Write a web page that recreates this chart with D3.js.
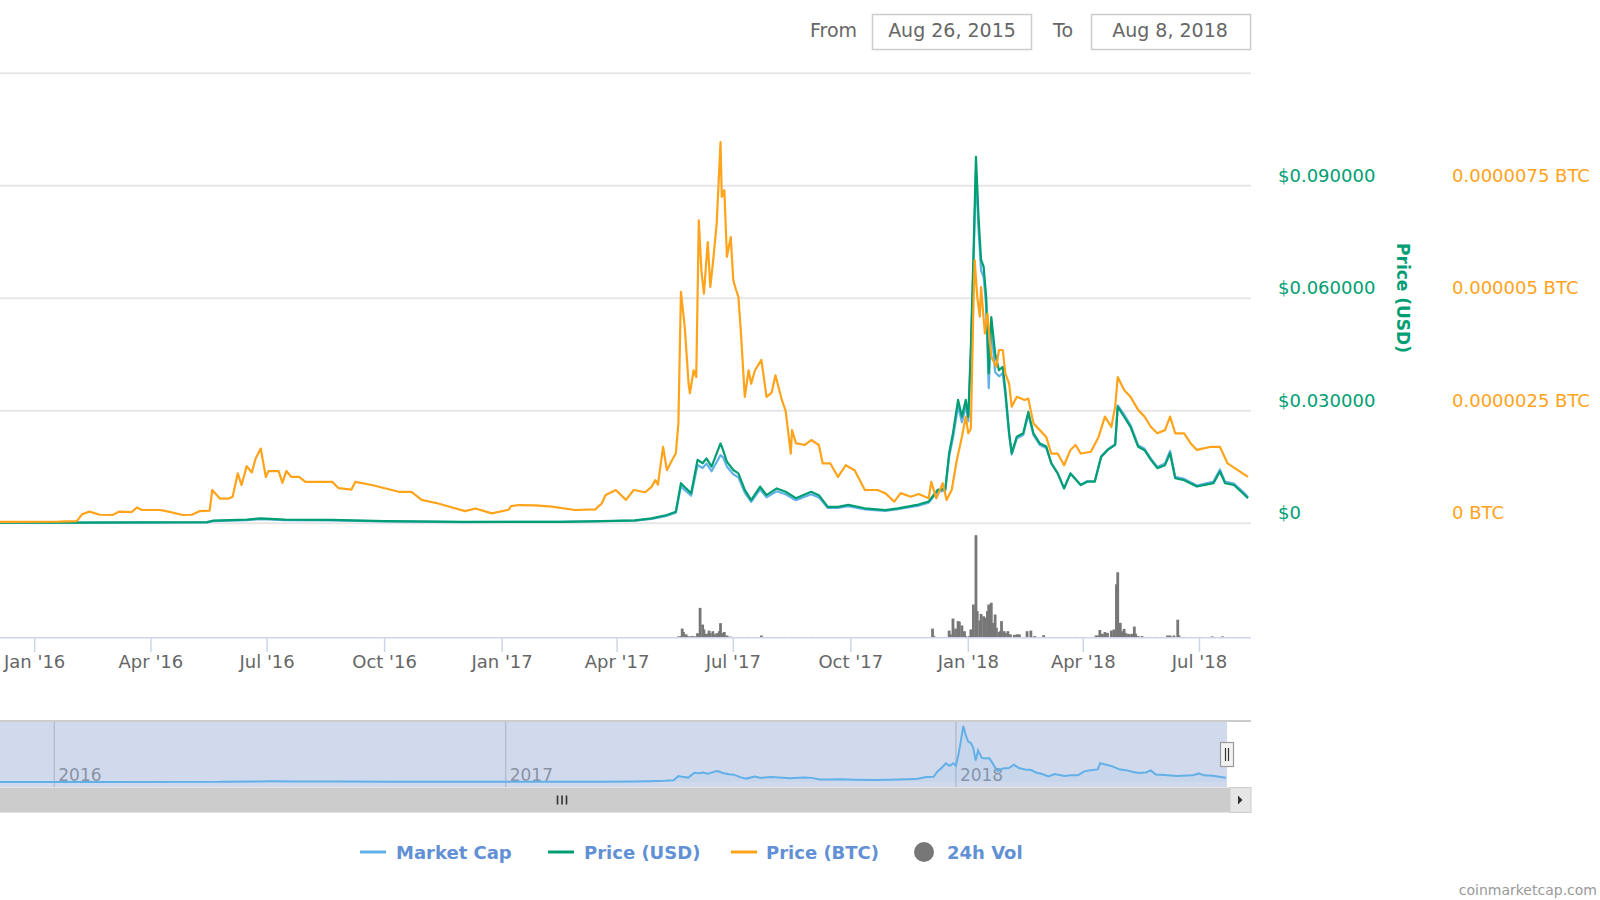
<!DOCTYPE html>
<html><head><meta charset="utf-8">
<script src="https://cdn.jsdelivr.net/npm/d3@7"></script>
<style>html,body{margin:0;padding:0;background:#fff;}svg{display:block;font-family:"DejaVu Sans",sans-serif;}</style>
</head><body>
<svg id="c" width="1600" height="900"></svg>
<script>
// ---------------- DATA ----------------
const fromLabel = "Aug 26, 2015";
const toLabel = "Aug 8, 2018";
const rangeStart = "2015-08-26";
const rangeEnd = "2018-08-08";

const btcDates = ["2015-08-26","2015-10-15","2015-12-10","2016-01-20","2016-02-03","2016-02-07","2016-02-13","2016-02-21","2016-03-02","2016-03-07","2016-03-17","2016-03-21","2016-03-25","2016-04-08","2016-04-13","2016-04-26","2016-05-03","2016-05-09","2016-05-17","2016-05-19","2016-05-25","2016-06-01","2016-06-04","2016-06-08","2016-06-11","2016-06-15","2016-06-19","2016-06-22","2016-06-26","2016-06-30","2016-07-02","2016-07-10","2016-07-13","2016-07-16","2016-07-20","2016-07-26","2016-07-31","2016-08-21","2016-08-26","2016-09-05","2016-09-08","2016-09-21","2016-10-12","2016-10-22","2016-10-30","2016-11-12","2016-12-03","2016-12-11","2016-12-24","2017-01-06","2017-01-08","2017-01-14","2017-01-27","2017-02-09","2017-02-27","2017-03-15","2017-03-20","2017-03-23","2017-03-31","2017-04-08","2017-04-14","2017-04-23","2017-04-28","2017-05-01","2017-05-03","2017-05-07","2017-05-10","2017-05-14","2017-05-17","2017-05-19","2017-05-21","2017-05-24","2017-05-27","2017-05-28","2017-05-31","2017-06-02","2017-06-04","2017-06-06","2017-06-08","2017-06-11","2017-06-13","2017-06-15","2017-06-18","2017-06-21","2017-06-22","2017-06-24","2017-06-26","2017-06-29","2017-07-01","2017-07-03","2017-07-05","2017-07-07","2017-07-10","2017-07-13","2017-07-15","2017-07-18","2017-07-23","2017-07-27","2017-07-31","2017-08-03","2017-08-08","2017-08-11","2017-08-15","2017-08-16","2017-08-19","2017-08-26","2017-08-31","2017-09-06","2017-09-09","2017-09-15","2017-09-21","2017-09-27","2017-10-04","2017-10-12","2017-10-22","2017-10-28","2017-11-04","2017-11-09","2017-11-17","2017-11-23","2017-12-01","2017-12-03","2017-12-07","2017-12-12","2017-12-15","2017-12-19","2017-12-23","2017-12-27","2017-12-30","2018-01-01","2018-01-03","2018-01-05","2018-01-06","2018-01-08","2018-01-10","2018-01-11","2018-01-14","2018-01-16","2018-01-19","2018-01-23","2018-01-25","2018-01-28","2018-01-30","2018-02-02","2018-02-04","2018-02-08","2018-02-14","2018-02-17","2018-02-21","2018-02-26","2018-03-03","2018-03-07","2018-03-12","2018-03-17","2018-03-22","2018-03-26","2018-03-30","2018-04-07","2018-04-13","2018-04-18","2018-04-23","2018-04-26","2018-04-28","2018-05-03","2018-05-08","2018-05-14","2018-05-19","2018-05-24","2018-05-29","2018-06-04","2018-06-08","2018-06-12","2018-06-19","2018-06-24","2018-06-29","2018-07-10","2018-07-17","2018-07-23","2018-07-31","2018-08-08"];
const btcPrices = [3.0e-8,3.5e-8,3.2e-8,3.6e-8,5e-8,2.0e-7,2.6e-7,1.9e-7,1.84e-7,2.6e-7,2.5e-7,3.5e-7,2.95e-7,2.95e-7,2.7e-7,1.84e-7,1.9e-7,2.7e-7,2.8e-7,7.4e-7,5.5e-7,5.5e-7,5.9e-7,1.11e-6,8.5e-7,1.27e-6,1.13e-6,1.44e-6,1.66e-6,1.03e-6,1.16e-6,1.16e-6,9.0e-7,1.16e-6,1.03e-6,1.03e-6,9.2e-7,9.2e-7,7.8e-7,7.5e-7,9.2e-7,8.5e-7,7.0e-7,7.0e-7,5.2e-7,4.4e-7,2.7e-7,3.3e-7,2.2e-7,3.0e-7,3.8e-7,4.06e-7,4.0e-7,3.7e-7,2.95e-7,3.1e-7,4.4e-7,6.3e-7,7.4e-7,5.2e-7,7.4e-7,6.9e-7,8.1e-7,9.6e-7,8.6e-7,1.7e-6,1.18e-6,1.4e-6,1.55e-6,2.22e-6,5.14e-6,4.36e-6,3.1e-6,2.89e-6,3.4e-6,3.25e-6,6.73e-6,5.62e-6,5.1e-6,6.25e-6,5.25e-6,5.77e-6,6.66e-6,8.47e-6,7.25e-6,7.4e-6,5.92e-6,6.36e-6,5.4e-6,5.2e-6,5.03e-6,4.22e-6,2.81e-6,3.4e-6,3.1e-6,3.4e-6,3.63e-6,2.81e-6,2.9e-6,3.29e-6,2.74e-6,2.5e-6,1.55e-6,2.07e-6,1.78e-6,1.74e-6,1.85e-6,1.74e-6,1.33e-6,1.33e-6,1.03e-6,1.29e-6,1.18e-6,7.4e-7,7.4e-7,6.7e-7,4.8e-7,6.7e-7,5.9e-7,6.5e-7,5.55e-7,9.2e-7,5.55e-7,8.9e-7,5.2e-7,7.4e-7,1.4e-6,1.92e-6,2.37e-6,2.0e-6,2.1e-6,4.81e-6,5.85e-6,5.03e-6,4.59e-6,5.25e-6,4.22e-6,4.66e-6,3.7e-6,3.48e-6,3.85e-6,3.85e-6,3.33e-6,3.1e-6,2.59e-6,2.81e-6,2.74e-6,2.77e-6,2.22e-6,2.07e-6,1.92e-6,1.55e-6,1.55e-6,1.29e-6,1.63e-6,1.74e-6,1.55e-6,1.59e-6,1.92e-6,2.37e-6,2.14e-6,2.59e-6,3.25e-6,2.96e-6,2.81e-6,2.52e-6,2.37e-6,2.14e-6,2.0e-6,2.07e-6,2.37e-6,2.0e-6,2.0e-6,1.78e-6,1.63e-6,1.7e-6,1.7e-6,1.33e-6,1.18e-6,1.03e-6];

const usdDates = ["2015-08-26","2016-02-01","2016-05-15","2016-05-20","2016-06-15","2016-06-26","2016-07-15","2016-08-20","2016-10-01","2016-12-01","2017-01-10","2017-02-15","2017-03-20","2017-04-15","2017-04-28","2017-05-10","2017-05-17","2017-05-21","2017-05-25","2017-05-29","2017-06-03","2017-06-07","2017-06-10","2017-06-14","2017-06-21","2017-06-23","2017-06-26","2017-07-01","2017-07-05","2017-07-10","2017-07-15","2017-07-22","2017-07-27","2017-08-04","2017-08-11","2017-08-19","2017-08-31","2017-09-06","2017-09-13","2017-09-21","2017-09-29","2017-10-12","2017-10-28","2017-11-07","2017-11-23","2017-12-01","2017-12-08","2017-12-14","2017-12-17","2017-12-20","2017-12-24","2017-12-27","2017-12-30","2018-01-01","2018-01-03","2018-01-05","2018-01-07","2018-01-09","2018-01-11","2018-01-13","2018-01-15","2018-01-17","2018-01-19","2018-01-22","2018-01-25","2018-01-28","2018-01-30","2018-02-02","2018-02-04","2018-02-08","2018-02-13","2018-02-17","2018-02-21","2018-02-26","2018-03-03","2018-03-07","2018-03-12","2018-03-17","2018-03-22","2018-03-30","2018-04-04","2018-04-10","2018-04-15","2018-04-20","2018-04-26","2018-04-28","2018-05-03","2018-05-08","2018-05-14","2018-05-19","2018-05-24","2018-05-29","2018-06-04","2018-06-08","2018-06-12","2018-06-19","2018-06-29","2018-07-12","2018-07-17","2018-07-21","2018-07-28","2018-08-04","2018-08-08"];
const usdPrices = [0.0002,0.0002,0.0003,0.0007,0.0010,0.0013,0.0010,0.0009,0.0006,0.0004,0.0004,0.0004,0.0006,0.0008,0.0013,0.0022,0.0031,0.0107,0.0093,0.0080,0.0169,0.0160,0.0173,0.0151,0.0213,0.0195,0.0164,0.0142,0.0133,0.0089,0.0062,0.0098,0.0075,0.0093,0.0084,0.0067,0.0084,0.0075,0.0044,0.0044,0.0049,0.0040,0.0035,0.0040,0.0050,0.0058,0.0089,0.0092,0.0187,0.0240,0.0329,0.0284,0.0329,0.0284,0.0470,0.0710,0.0977,0.0817,0.0702,0.0684,0.0604,0.0400,0.0550,0.0453,0.0408,0.0417,0.0355,0.0240,0.0187,0.0231,0.0240,0.0297,0.0240,0.0213,0.0205,0.0160,0.0133,0.0093,0.0133,0.0102,0.0111,0.0111,0.0177,0.0195,0.0209,0.0311,0.0284,0.0257,0.0204,0.0195,0.0169,0.0147,0.0155,0.0187,0.0120,0.0115,0.0098,0.0107,0.0138,0.0107,0.0102,0.0080,0.0067];
// Market cap in millions of USD, same dates as usdDates
const marketCapM = [6,6,8,20,28,36,28,25,17,11,12,12,18,24,39,66,94,325,282,243,513,486,525,458,600,580,498,431,404,270,188,298,228,282,255,203,255,228,135,135,150,123,108,124,156,182,279,288,586,752,1031,890,1031,898,1489,2249,3095,2588,2224,2167,1913,1188,1742,1330,1293,1321,1125,776,605,747,776,960,776,689,663,528,439,307,439,337,370,370,590,650,697,1037,956,865,687,656,569,495,527,636,408,391,333,367,474,367,350,277,232];

const volDates = ["2017-05-19","2017-05-21","2017-05-22","2017-05-23","2017-05-25","2017-05-26","2017-05-28","2017-05-30","2017-06-01","2017-06-03","2017-06-05","2017-06-07","2017-06-08","2017-06-10","2017-06-12","2017-06-13","2017-06-15","2017-06-16","2017-06-18","2017-06-20","2017-06-21","2017-06-23","2017-06-24","2017-06-26","2017-06-27","2017-06-29","2017-07-03","2017-07-08","2017-07-12","2017-07-16","2017-07-23","2017-08-11","2017-08-16","2017-09-01","2017-12-04","2017-12-05","2017-12-13","2017-12-17","2017-12-18","2017-12-20","2017-12-22","2017-12-24","2017-12-25","2017-12-27","2017-12-29","2017-12-30","2018-01-02","2018-01-03","2018-01-05","2018-01-07","2018-01-08","2018-01-10","2018-01-11","2018-01-13","2018-01-14","2018-01-16","2018-01-17","2018-01-19","2018-01-20","2018-01-22","2018-01-23","2018-01-25","2018-01-26","2018-01-27","2018-01-29","2018-01-30","2018-02-01","2018-02-03","2018-02-06","2018-02-08","2018-02-10","2018-02-16","2018-02-19","2018-02-22","2018-03-01","2018-03-26","2018-04-11","2018-04-12","2018-04-14","2018-04-16","2018-04-18","2018-04-20","2018-04-23","2018-04-25","2018-04-27","2018-04-28","2018-04-30","2018-05-01","2018-05-03","2018-05-04","2018-05-06","2018-05-07","2018-05-09","2018-05-11","2018-05-12","2018-05-14","2018-05-17","2018-05-20","2018-05-23","2018-05-28","2018-06-06","2018-06-08","2018-06-11","2018-06-14","2018-06-15","2018-06-19","2018-06-24","2018-07-01","2018-07-11","2018-07-19","2018-07-24"];
const volM = [5,6,32,20,12,6,5,6,5,16,104,46,29,14,25,16,23,12,16,23,51,17,20,8,4,4,3,3,3,2,8,3,3,3,32,6,3,25,12,67,32,58,56,43,23,6,6,29,116,357,93,60,83,75,70,93,116,122,52,81,35,20,23,58,23,17,23,12,10,12,12,23,25,6,9,3,8,8,27,14,20,17,25,29,186,228,52,23,31,17,14,12,14,39,14,6,6,3,3,3,8,8,8,63,8,3,3,3,5,5,3];

const usdTicks = [0, 0.03, 0.06, 0.09, 0.12];
const btcTicks = [0, 0.0000025, 0.000005, 0.0000075];
const seriesNames = ["Market Cap", "Price (USD)", "Price (BTC)", "24h Vol"];
const seriesColors = ["#62b0e8", "#009e73", "#ffa31a", "#777777"];
const axisTitle = "Price (USD)";
const credit = "coinmarketcap.com";

// ---------------- CHART ----------------
const parse = d3.utcParse("%Y-%m-%d");
const svg = d3.select("#c");
const plotRight = 1251;
const [cMcap, cUsd, cBtc, cVol] = seriesColors;

const x = d3.scaleUtc().domain([parse(rangeStart), parse(rangeEnd)]).range([-128.8, 1248]);
const yUsd = d3.scaleLinear().domain([0, 0.12]).range([523.3, 73.2]);
const yBtc = d3.scaleLinear().domain([0, 0.00001]).range([523.3, 73.2]);
const yMcap = d3.scaleLinear().domain([0, 3960]).range([523.3, 73.2]);
const yVol = d3.scaleLinear().domain([0, 400]).range([637.8, 522.8]);
const xNav = d3.scaleUtc().domain([parse(rangeStart), parse(rangeEnd)]).range([-103.6, 1226]);
const yNav = d3.scaleLinear().domain([0, d3.max(marketCapM)]).range([782, 726]);

const defs = svg.append("defs");
defs.append("clipPath").attr("id", "plotClip").append("rect")
  .attr("x", 0).attr("y", 60).attr("width", plotRight).attr("height", 580);
defs.append("clipPath").attr("id", "navClip").append("rect")
  .attr("x", 0).attr("y", 715).attr("width", 1228).attr("height", 75);

// Date range inputs
const fontLbl = 19;
svg.append("text").attr("x", 810).attr("y", 37).attr("font-size", fontLbl).attr("fill", "#666").text("From");
svg.append("rect").attr("x", 872.5).attr("y", 14.5).attr("width", 159).attr("height", 35)
  .attr("fill", "#fff").attr("stroke", "#cccccc").attr("stroke-width", 1.5);
svg.append("text").attr("x", 952).attr("y", 37).attr("text-anchor", "middle").attr("font-size", fontLbl).attr("fill", "#666").text(fromLabel);
svg.append("text").attr("x", 1053).attr("y", 37).attr("font-size", fontLbl).attr("fill", "#666").text("To");
svg.append("rect").attr("x", 1091.5).attr("y", 14.5).attr("width", 159).attr("height", 35)
  .attr("fill", "#fff").attr("stroke", "#cccccc").attr("stroke-width", 1.5);
svg.append("text").attr("x", 1170).attr("y", 37).attr("text-anchor", "middle").attr("font-size", fontLbl).attr("fill", "#666").text(toLabel);

// Gridlines
svg.append("g").selectAll("line").data(usdTicks).join("line")
  .attr("x1", 0).attr("x2", plotRight)
  .attr("y1", d => yUsd(d)).attr("y2", d => yUsd(d))
  .attr("stroke", "#e6e6e6").attr("stroke-width", 2);

// USD axis labels
const fmtUsd = v => v === 0 ? "$0" : "$" + v.toFixed(6);
svg.append("g").selectAll("text").data(usdTicks.filter(t => t < 0.12)).join("text")
  .attr("x", 1278).attr("y", d => yUsd(d) - 4)
  .attr("font-size", 18).attr("fill", cUsd).text(fmtUsd);
// BTC axis labels
const fmtBtc = v => v.toFixed(7).replace(/0+$/, "").replace(/\.$/, "") + " BTC";
svg.append("g").selectAll("text").data(btcTicks).join("text")
  .attr("x", 1452).attr("y", d => yBtc(d) - 4)
  .attr("font-size", 18).attr("fill", cBtc).text(fmtBtc);
// Axis title
svg.append("text").attr("transform", "translate(1403,298) rotate(90)")
  .attr("text-anchor", "middle").attr("dominant-baseline", "central")
  .attr("font-size", 17).attr("font-weight", "bold").attr("fill", cUsd).text(axisTitle);

// Series data
const usdData = usdDates.map((d, i) => ({ date: parse(d), v: usdPrices[i], m: marketCapM[i] }));
const btcData = btcDates.map((d, i) => ({ date: parse(d), v: btcPrices[i] }));
const volData = volDates.map((d, i) => ({ date: parse(d), v: volM[i] }));

const plot = svg.append("g").attr("clip-path", "url(#plotClip)");
plot.append("path").datum(usdData)
  .attr("d", d3.line().x(d => x(d.date)).y(d => yMcap(d.m)))
  .attr("fill", "none").attr("stroke", cMcap).attr("stroke-width", 2.2).attr("stroke-linejoin", "round");
plot.append("path").datum(usdData)
  .attr("d", d3.line().x(d => x(d.date)).y(d => yUsd(d.v)))
  .attr("fill", "none").attr("stroke", cUsd).attr("stroke-width", 2.2).attr("stroke-linejoin", "round");
plot.append("path").datum(btcData)
  .attr("d", d3.line().x(d => x(d.date)).y(d => yBtc(d.v)))
  .attr("fill", "none").attr("stroke", cBtc).attr("stroke-width", 2.2).attr("stroke-linejoin", "round");

// Volume bars
plot.append("g").selectAll("rect").data(volData).join("rect")
  .attr("x", d => x(d.date) - 1.4).attr("width", 2.8)
  .attr("y", d => yVol(d.v)).attr("height", d => yVol(0) - yVol(d.v))
  .attr("fill", cVol);

// X axis
svg.append("line").attr("x1", 0).attr("x2", plotRight).attr("y1", 637.8).attr("y2", 637.8)
  .attr("stroke", "#ccd6eb").attr("stroke-width", 1.5);
const xticks = x.ticks(d3.utcMonth.every(3)).filter(d => x(d) >= 0 && x(d) <= plotRight);
const fmtX = d3.utcFormat("%b '%y");
const xt = svg.append("g").selectAll("g").data(xticks).join("g");
xt.append("line").attr("x1", d => x(d)).attr("x2", d => x(d)).attr("y1", 637.8).attr("y2", 652)
  .attr("stroke", "#ccd6eb").attr("stroke-width", 1.5);
xt.append("text").attr("x", d => x(d)).attr("y", 668).attr("text-anchor", "middle")
  .attr("font-size", 18).attr("fill", "#666").text(fmtX);

// Navigator
const navG = svg.append("g");
navG.append("g").attr("clip-path", "url(#navClip)").selectAll("g")
  .data(xNav.ticks(d3.utcYear.every(1))).join(g => {
    const e = g.append("g");
    e.append("line").attr("x1", d => xNav(d)).attr("x2", d => xNav(d)).attr("y1", 721).attr("y2", 787)
      .attr("stroke", "#d8d8d8").attr("stroke-width", 1.5);
    e.append("text").attr("x", d => xNav(d) + 4).attr("y", 781).attr("font-size", 17)
      .attr("fill", "#999").text(d3.utcFormat("%Y"));
    return e;
  });
navG.append("rect").attr("x", 0).attr("y", 721).attr("width", 1227).attr("height", 66)
  .attr("fill", "rgba(102,133,194,0.3)");
const navSeries = navG.append("g").attr("clip-path", "url(#navClip)");
navSeries.append("path").datum(usdData)
  .attr("d", d3.area().x(d => xNav(d.date)).y0(yNav(0)).y1(d => yNav(d.m)))
  .attr("fill", cMcap).attr("fill-opacity", 0.08);
navSeries.append("path").datum(usdData)
  .attr("d", d3.line().x(d => xNav(d.date)).y(d => yNav(d.m)))
  .attr("fill", "none").attr("stroke", cMcap).attr("stroke-width", 2);
navG.append("line").attr("x1", 0).attr("x2", plotRight).attr("y1", 721).attr("y2", 721)
  .attr("stroke", "#cccccc").attr("stroke-width", 2);
// handle
navG.append("rect").attr("x", 1220.5).attr("y", 742.5).attr("width", 13).attr("height", 24)
  .attr("fill", "#f2f2f2").attr("stroke", "#999").attr("stroke-width", 1.2);
[1225.5, 1228.5].forEach(hx => navG.append("line").attr("x1", hx).attr("x2", hx)
  .attr("y1", 748).attr("y2", 761).attr("stroke", "#333").attr("stroke-width", 1.2));

// Scrollbar
svg.append("rect").attr("x", 0).attr("y", 787.5).attr("width", 1230).attr("height", 25).attr("fill", "#cccccc");
svg.append("rect").attr("x", 1230).attr("y", 787.5).attr("width", 21).attr("height", 25)
  .attr("fill", "#e6e6e6").attr("stroke", "#cccccc").attr("stroke-width", 1);
svg.append("path").attr("d", "M1238,795.5 L1238,804.5 L1242.5,800 Z").attr("fill", "#333");
[557.5, 562, 566.5].forEach(gx => svg.append("line").attr("x1", gx).attr("x2", gx)
  .attr("y1", 795.5).attr("y2", 804.5).attr("stroke", "#333").attr("stroke-width", 1.6));

// Legend
const legendText = "#6290d5";
const lg = svg.append("g").attr("font-size", 18).attr("font-weight", "bold");
const legendPos = [
  { sx: 360, tx: 396 }, { sx: 548, tx: 584 }, { sx: 731, tx: 766 }, { sx: 914, tx: 947 }
];
seriesNames.forEach((name, i) => {
  const p = legendPos[i];
  if (i < 3) {
    lg.append("line").attr("x1", p.sx).attr("x2", p.sx + 26).attr("y1", 852).attr("y2", 852)
      .attr("stroke", seriesColors[i]).attr("stroke-width", 3);
  } else {
    lg.append("circle").attr("cx", p.sx + 10).attr("cy", 852).attr("r", 10).attr("fill", seriesColors[i]);
  }
  lg.append("text").attr("x", p.tx).attr("y", 858.5).attr("fill", legendText).text(name);
});

// Credit
svg.append("text").attr("x", 1597).attr("y", 895).attr("text-anchor", "end")
  .attr("font-size", 14).attr("fill", "#999").text(credit);
</script>
</body></html>
